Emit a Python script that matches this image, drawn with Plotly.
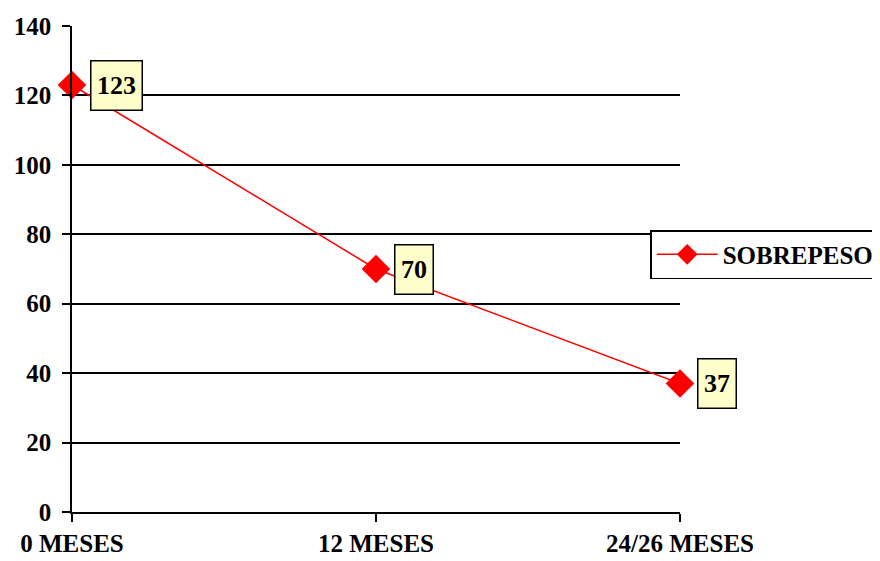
import plotly.graph_objects as go

categories = ["0 MESES", "12 MESES", "24/26 MESES"]
values = [123, 70, 37]
series_name = "SOBREPESO"
y_ticks = [0, 20, 40, 60, 80, 100, 120, 140]

xpos = list(range(len(categories)))
font_family = "Liberation Serif, Times New Roman, serif"

fig = go.Figure()
fig.add_trace(go.Scatter(
    x=xpos, y=values, mode="lines+markers", name="<b>%s</b>" % series_name,
    line=dict(color="#FF0000", width=1.5),
    marker=dict(symbol="diamond", size=22, color="#FF0000"),
    cliponaxis=False,
))

for i, v in enumerate(values):
    txt = str(v)
    fig.add_annotation(
        x=xpos[i], y=v, xref="x", yref="y", text="<b>%s</b>" % txt,
        showarrow=False, xanchor="left", yanchor="middle",
        xshift=18 if i < 2 else 17, yshift=0,
        font=dict(family=font_family, size=26, color="black"),
        bgcolor="#FFFFCC", bordercolor="black", borderwidth=1.5, borderpad=3,
        width=44 if len(txt) == 3 else 31, height=42,
    )

fig.update_layout(
    width=872, height=553,
    margin=dict(l=64, r=200, t=18, b=49, autoexpand=False),
    paper_bgcolor="white", plot_bgcolor="white",
    font=dict(family=font_family, size=25, color="black"),
    showlegend=True,
    legend=dict(
        x=0.951, y=0.58, xanchor="left", yanchor="top",
        bordercolor="black", borderwidth=1.5, bgcolor="white",
        font=dict(family=font_family, size=25, color="black"),
        itemwidth=61,
    ),
    xaxis=dict(
        range=[0, 2], tickmode="array", tickvals=xpos,
        ticktext=["<b>%s</b>" % c for c in categories],
        showgrid=False, zeroline=False, showline=True, linecolor="black", linewidth=1.5,
        ticks="outside", ticklen=8, tickcolor="black", tickwidth=1.5,
        tickfont=dict(family=font_family, size=25, color="black"),
        automargin=False,
    ),
    yaxis=dict(
        range=[0, 140], tickmode="array", tickvals=y_ticks,
        ticktext=["<b>%d</b>" % t for t in y_ticks],
        showgrid=True, gridcolor="black", gridwidth=1.5,
        zeroline=False, showline=True, linecolor="black", linewidth=1.5,
        ticks="outside", ticklen=8, tickcolor="black", tickwidth=1.5,
        tickfont=dict(family=font_family, size=25, color="black"),
        ticklabelstandoff=6,
        automargin=False,
    ),
)

fig.write_html("out.html")
